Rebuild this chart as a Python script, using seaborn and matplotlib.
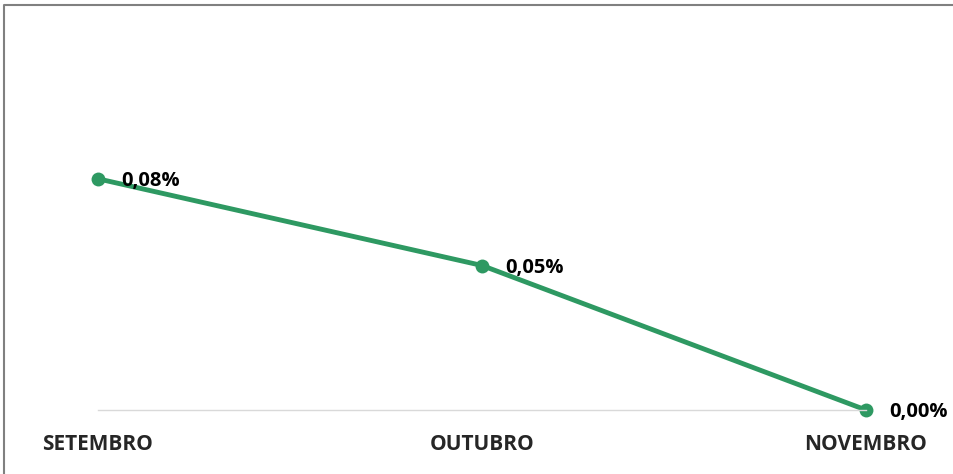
import numpy as np
import pandas as pd
import matplotlib
matplotlib.use("Agg")
import matplotlib.pyplot as plt
import seaborn as sns

# chart data
months = ["SETEMBRO", "OUTUBRO", "NOVEMBRO"]
values = [0.08, 0.05, 0.00]
value_labels = ["0,08%", "0,05%", "0,00%"]

green = "#2E9962"

df = pd.DataFrame({"mes": months, "valor": values})

sns.set_style("white")
plt.rcParams["font.family"] = ["Open Sans", "DejaVu Sans"]

fig = plt.figure(figsize=(9.54, 4.74), dpi=100)
ax = fig.add_axes([98 / 954, (474 - 410) / 474, (866 - 98) / 954, 289 / 474])

sns.lineplot(data=df, x="mes", y="valor", ax=ax, color=green, linewidth=3.5,
             marker="o", markersize=10, markeredgewidth=0, sort=False)
for line in ax.lines:
    line.set_clip_on(False)

for i, (v, lab) in enumerate(zip(values, value_labels)):
    ax.annotate(lab, (i, v), xytext=(17, -1.5), textcoords="offset points",
                ha="left", va="center", fontsize=14.5, fontweight="bold", color="black")

ax.set_xlim(0, 2)
ax.set_ylim(0, 0.1)
ax.set_xlabel("")
ax.set_ylabel("")
ax.set_yticks([])
ax.tick_params(axis="x", length=0, pad=17, labelsize=15)
for t in ax.get_xticklabels():
    t.set_fontweight("bold")
for s in ["top", "right", "left"]:
    ax.spines[s].set_visible(False)
ax.spines["bottom"].set_color("#D9D9D9")
ax.spines["bottom"].set_linewidth(1)

# outer frame, only top and left edges are visible
fig.lines.append(plt.Line2D([4.5 / 954, 4.5 / 954, 1], [0, 1 - 4.5 / 474, 1 - 4.5 / 474],
                            transform=fig.transFigure, color="#808080", linewidth=1.5))

fig.savefig("out.png", dpi=100)
